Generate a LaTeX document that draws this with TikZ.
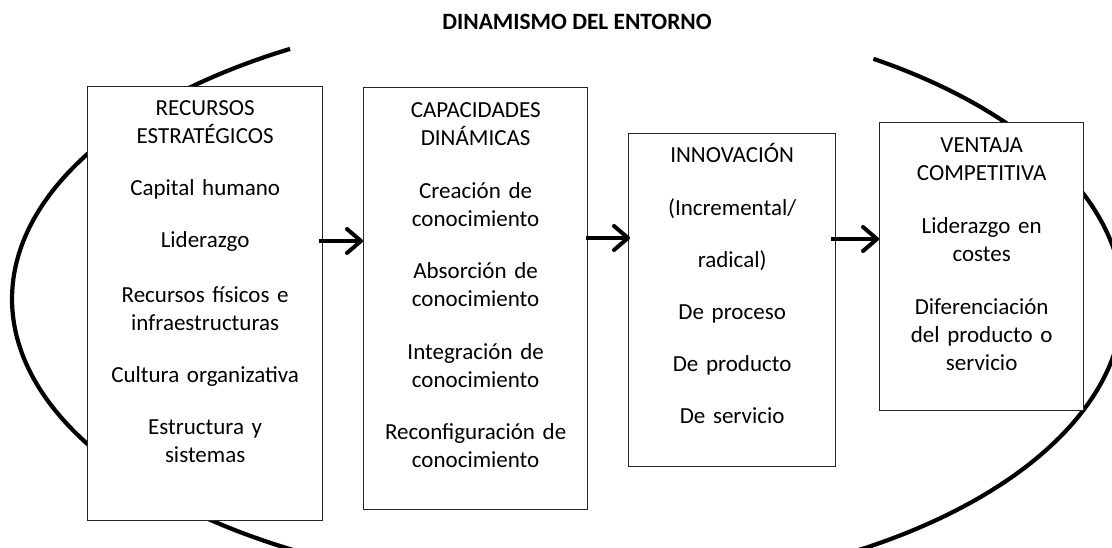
\documentclass[tikz,border=0pt]{standalone}
\usepackage{fontspec}
\setmainfont{Carlito}
\usetikzlibrary{arrows.meta}
\begin{document}
\begin{tikzpicture}[x=1pt,y=-1pt,
  boxnode/.style={draw=black!85, line width=1.3pt, fill=white, inner sep=0pt, anchor=north west},
  txtnode/.style={anchor=base, align=center, inner sep=0pt, font=\fontsize{23}{28}\selectfont},
  flowarrow/.style={line width=4pt, -{Straight Barb[length=14pt, width=24pt, round]}},
  envline/.style={line width=4.2pt}
]
\useasboundingbox (0,0) rectangle (1112,548);

% environment curve (behind boxes)
\draw[envline]
  plot[domain=-57:90, samples=90, smooth] ({575+548*cos(\x)},{302+290*sin(\x)})
  -- plot[domain=90:239.6, samples=90, smooth] ({575+563*cos(\x)},{299+290*sin(\x)});

\node[font=\bfseries\fontsize{23.4}{28}\selectfont, anchor=base, inner sep=0pt] (title) at (577,30) {DINAMISMO DEL ENTORNO};

% boxes
\node[boxnode, minimum width=235pt, minimum height=434pt] (b1) at (87,86) {};
\node[boxnode, minimum width=224pt, minimum height=422pt] (b2) at (363,87) {};
\node[boxnode, minimum width=207pt, minimum height=333pt] (b3) at (628,133) {};
\node[boxnode, minimum width=204pt, minimum height=288pt] (b4) at (879,122) {};

% texts
\node[txtnode, text width=225pt] (t1) at ([yshift=-30pt]b1.north) {RECURSOS\\ESTRATÉGICOS\\[24pt]Capital humano\\[24pt]Liderazgo\\[27pt]Recursos físicos e\\infraestructuras\\[24pt]Cultura organizativa\\[24pt]Estructura y\\sistemas};
\node[txtnode, text width=215pt] (t2) at ([yshift=-31pt]b2.north) {CAPACIDADES\\DINÁMICAS\\[24.5pt]Creación de\\conocimiento\\[24.5pt]Absorción de\\conocimiento\\[24.5pt]Integración de\\conocimiento\\[24.5pt]Reconfiguración de\\conocimiento};
\node[txtnode, text width=200pt] (t3) at ([yshift=-30pt]b3.north) {INNOVACIÓN\\[25pt](Incremental/\\[24pt]radical)\\[24pt]De proceso\\[24pt]De producto\\[24pt]De servicio};
\node[txtnode, text width=196pt] (t4) at ([yshift=-31pt]b4.north) {VENTAJA\\COMPETITIVA\\[25pt]Liderazgo en\\costes\\[25pt]Diferenciación\\del producto o\\servicio};

% arrows
\coordinate (a1) at (0,241);
\coordinate (a2) at (0,238);
\coordinate (a3) at (0,239);
\draw[flowarrow] ([xshift=-4pt]b1.east |- a1) -- (b2.west |- a1);
\draw[flowarrow] ([xshift=-2pt]b2.east |- a2) -- ([xshift=2pt]b3.west |- a2);
\draw[flowarrow] ([xshift=-5pt]b3.east |- a3) -- (b4.west |- a3);
\end{tikzpicture}
\end{document}
